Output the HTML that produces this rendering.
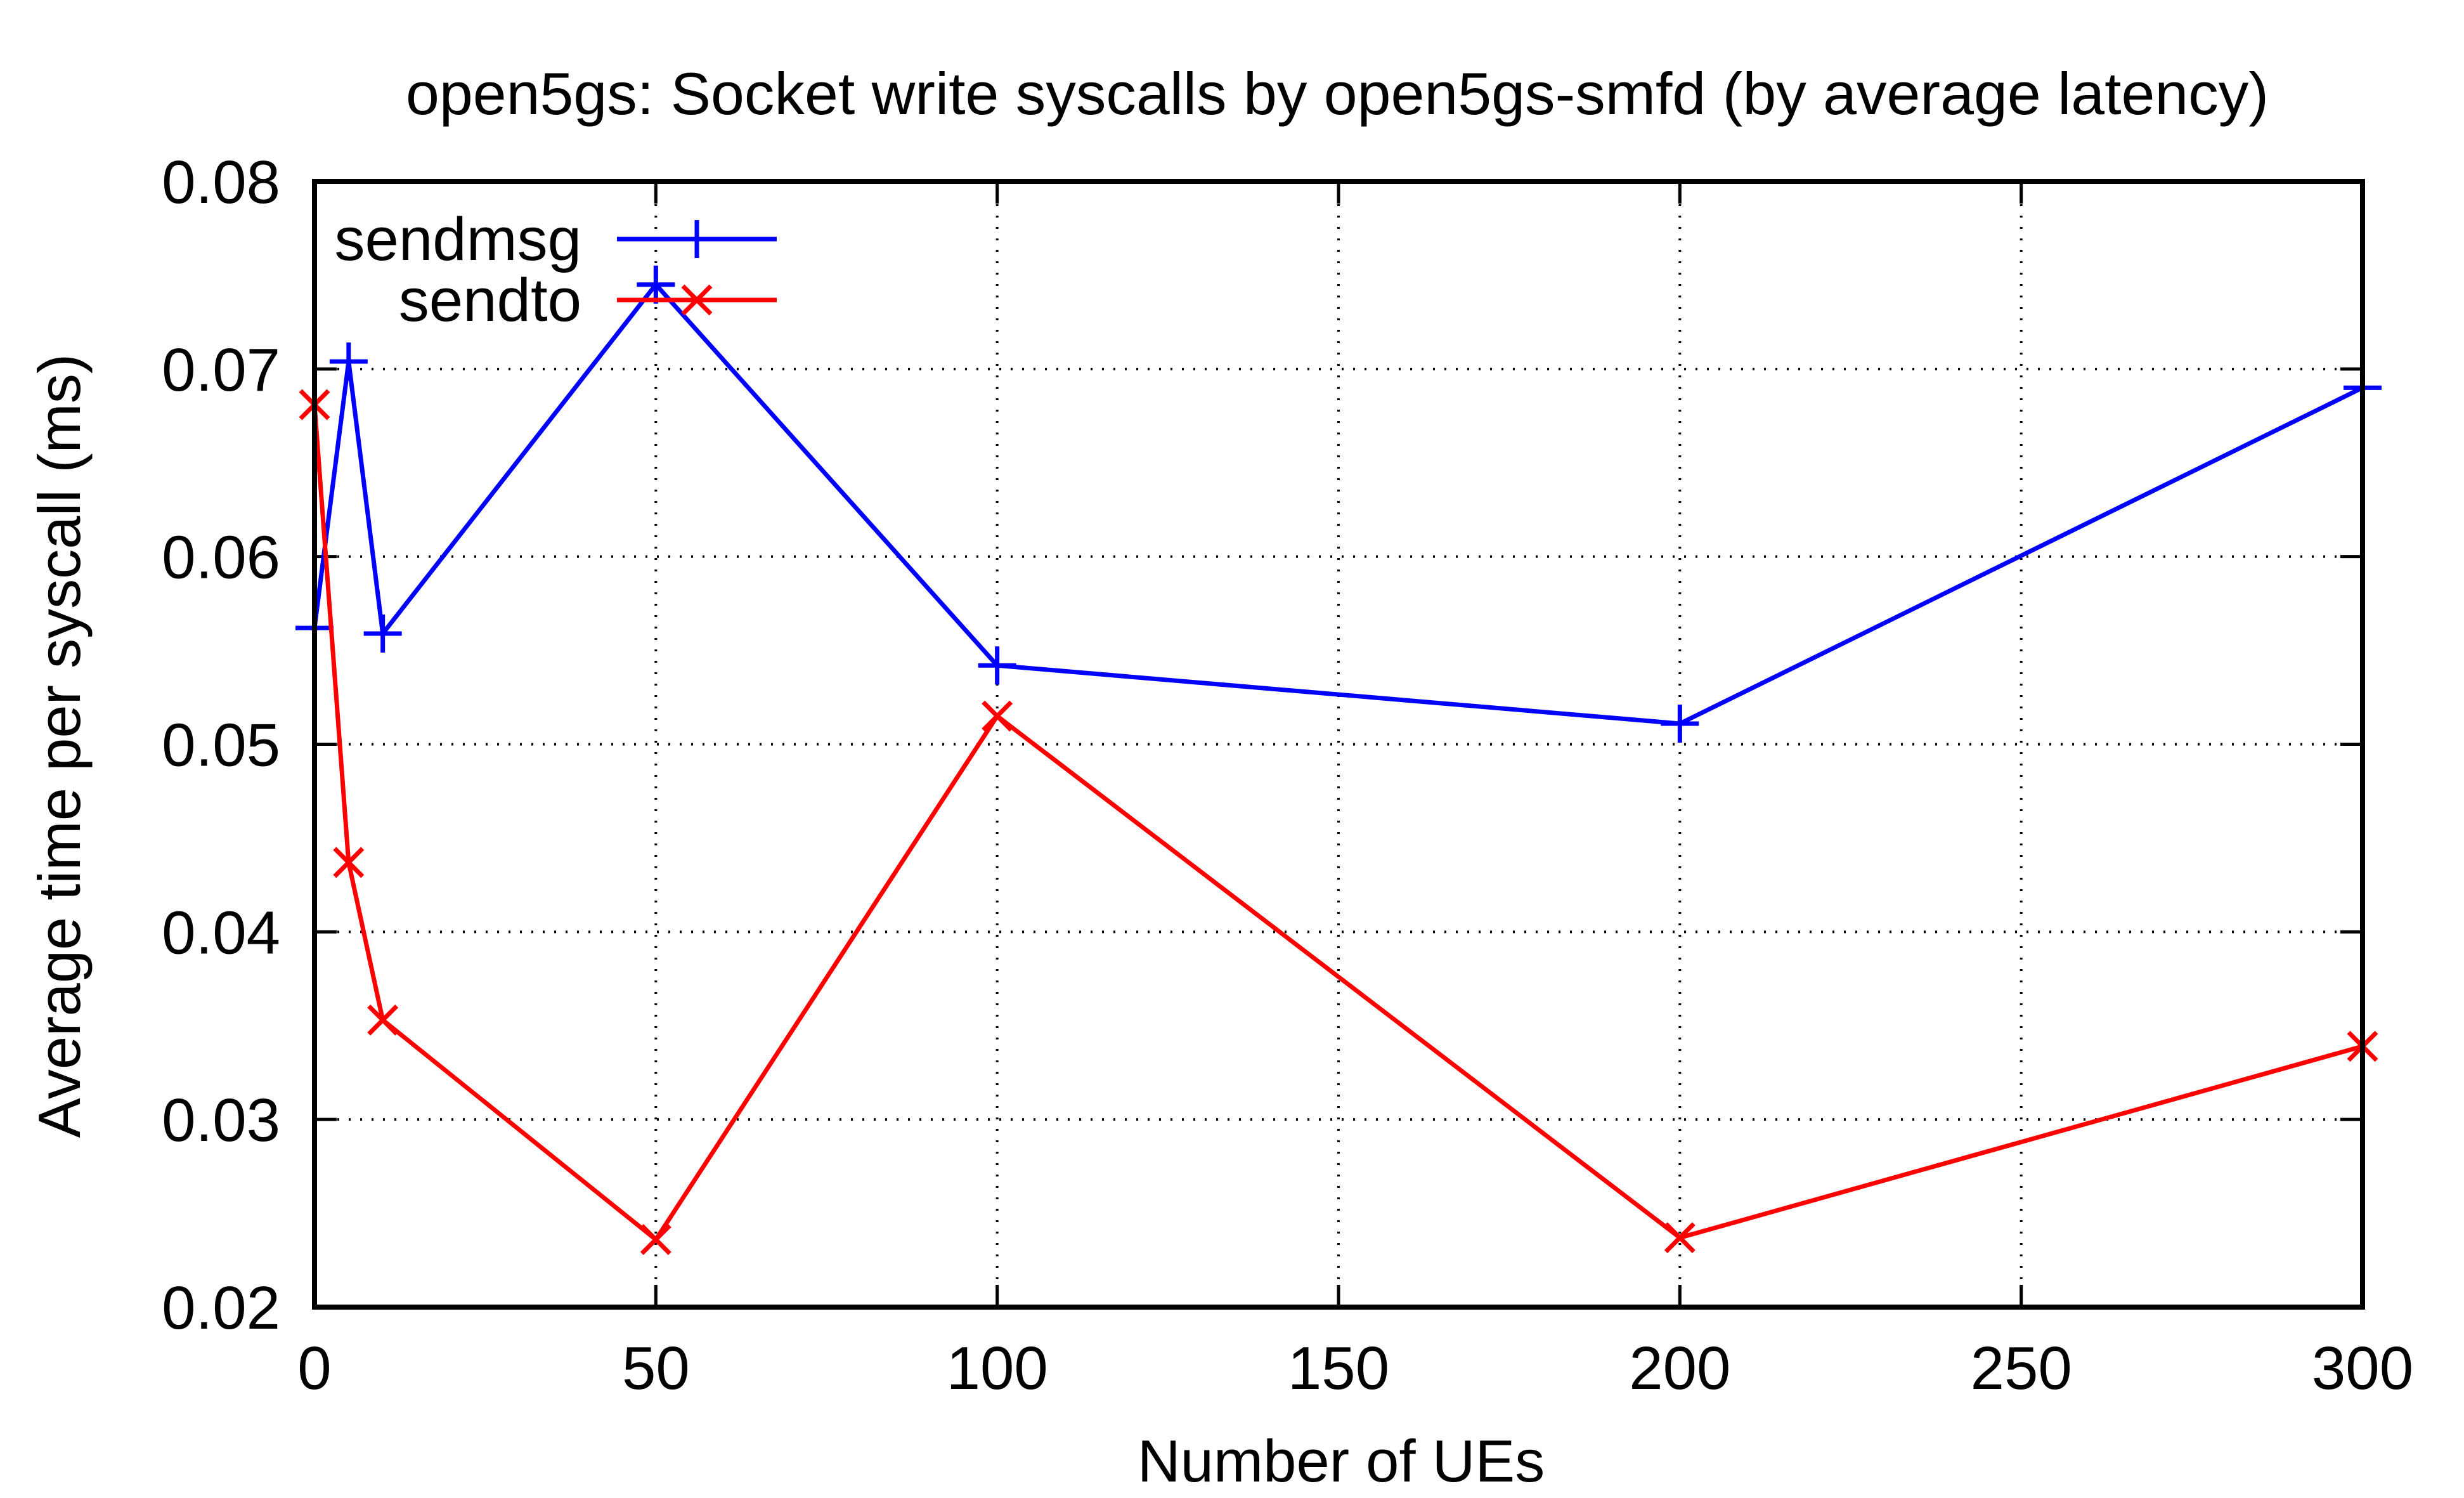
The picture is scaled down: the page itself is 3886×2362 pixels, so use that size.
<!DOCTYPE html>
<html><head><meta charset="utf-8"><style>
html,body{margin:0;padding:0;background:#fff;}
svg{display:block;font-family:"Liberation Sans",Arial,sans-serif;}
</style></head><body>
<svg id="chart" width="3886" height="2362" viewBox="0 0 3886 2362" xmlns="http://www.w3.org/2000/svg">
<rect width="3886" height="2362" fill="#fff"/>
<text x="2109" y="180" font-size="94" text-anchor="middle" textLength="2938" lengthAdjust="spacingAndGlyphs">open5gs: Socket write syscalls by open5gs-smfd (by average latency)</text>
<text x="2115" y="2336" font-size="94" text-anchor="middle">Number of UEs</text>
<text transform="translate(126,1176) rotate(-90)" font-size="94" text-anchor="middle">Average time per syscall (ms)</text>
<g id="grid"></g><g id="ticks"></g><g id="series"></g>
<rect x="496" y="286" width="3230" height="1775" fill="none" stroke="#000" stroke-width="8"/>
<g id="legend"></g>
</svg>
<script>
const xTicks=[0,50,100,150,200,250,300];
const yTicks=[0.02,0.03,0.04,0.05,0.06,0.07,0.08];
const yTickLabels=["0.02","0.03","0.04","0.05","0.06","0.07","0.08"];
const xValues=[0,5,10,50,100,200,300];
const sendmsgValues=[0.0562,0.0704,0.0559,0.0745,0.0542,0.0511,0.0690];
const sendtoValues=[0.0681,0.0437,0.0353,0.0236,0.0515,0.0237,0.0339];
const L=496,R=3726,T=286,B=2061;
const xs=v=>L+(v-0)/(300-0)*(R-L);
const ys=v=>B-(v-0.02)/(0.08-0.02)*(B-T);
const NS="http://www.w3.org/2000/svg";
function mk(tag,attrs,parent){const e=document.createElementNS(NS,tag);for(const k in attrs)e.setAttribute(k,attrs[k]);parent.appendChild(e);return e;}
const grid=document.getElementById('grid'),ticks=document.getElementById('ticks'),ser=document.getElementById('series'),leg=document.getElementById('legend');
xTicks.forEach((t,i)=>{const x=xs(t);
 if(i>0&&i<xTicks.length-1){const g=mk('line',{x1:x,x2:x,y1:T,y2:B,stroke:'#000','stroke-width':4,'stroke-dasharray':'3,15'},grid);
 
 }
 const a=mk('path',{d:`M${x},${B}v-35M${x},${T}v35`,stroke:'#000','stroke-width':5},ticks);
 
 
 const lb=mk('text',{x:x,y:2190,'font-size':96,'text-anchor':'middle'},ticks);lb.textContent=String(t);
 
 
});
yTicks.forEach((t,i)=>{const y=ys(t);
 if(i>0&&i<yTicks.length-1){const g=mk('line',{x1:L,x2:R,y1:y,y2:y,stroke:'#000','stroke-width':4,'stroke-dasharray':'3,15'},grid);
 
 }
 const a=mk('path',{d:`M${L},${y}h35M${R},${y}h-35`,stroke:'#000','stroke-width':5},ticks);
 
 
 const lb=mk('text',{x:442,y:y+34,'font-size':96,'text-anchor':'end'},ticks);lb.textContent=yTickLabels[i];
 
 
});
function plus(x,y,c,p){const m=mk('path',{d:`M${x-30},${y}h60M${x},${y-30}v60`,stroke:c,'stroke-width':7,fill:'none'},p);return m;}
function cross(x,y,c,p){const m=mk('path',{d:`M${x-22},${y-22}l44,44M${x-22},${y+22}l44,-44`,stroke:c,'stroke-width':7,fill:'none'},p);return m;}
function drawSeries(vals,color,name,marker){
 const pts=xValues.map((v,i)=>xs(v)+','+ys(vals[i])).join(' ');
 const pl=mk('polyline',{points:pts,fill:'none',stroke:color,'stroke-width':7,'stroke-linejoin':'miter'},ser);
 
 
 xValues.forEach((v,i)=>{const m=marker(xs(v),ys(vals[i]),color,ser);
  
  });
}
drawSeries(sendmsgValues,'#0000ff','sendmsg',plus);
drawSeries(sendtoValues,'#ff0000','sendto',cross);
const l1=mk('text',{x:917,y:410,'font-size':96,'text-anchor':'end'},leg);l1.textContent='sendmsg';


const s1=mk('line',{x1:973,x2:1225,y1:377,y2:377,stroke:'#0000ff','stroke-width':7},leg);


const m1=plus(1099,377,'#0000ff',leg);


const l2=mk('text',{x:917,y:506,'font-size':96,'text-anchor':'end'},leg);l2.textContent='sendto';


const s2=mk('line',{x1:973,x2:1225,y1:473,y2:473,stroke:'#ff0000','stroke-width':7},leg);


const m2=cross(1099,473,'#ff0000',leg);


</script>
</body></html>
